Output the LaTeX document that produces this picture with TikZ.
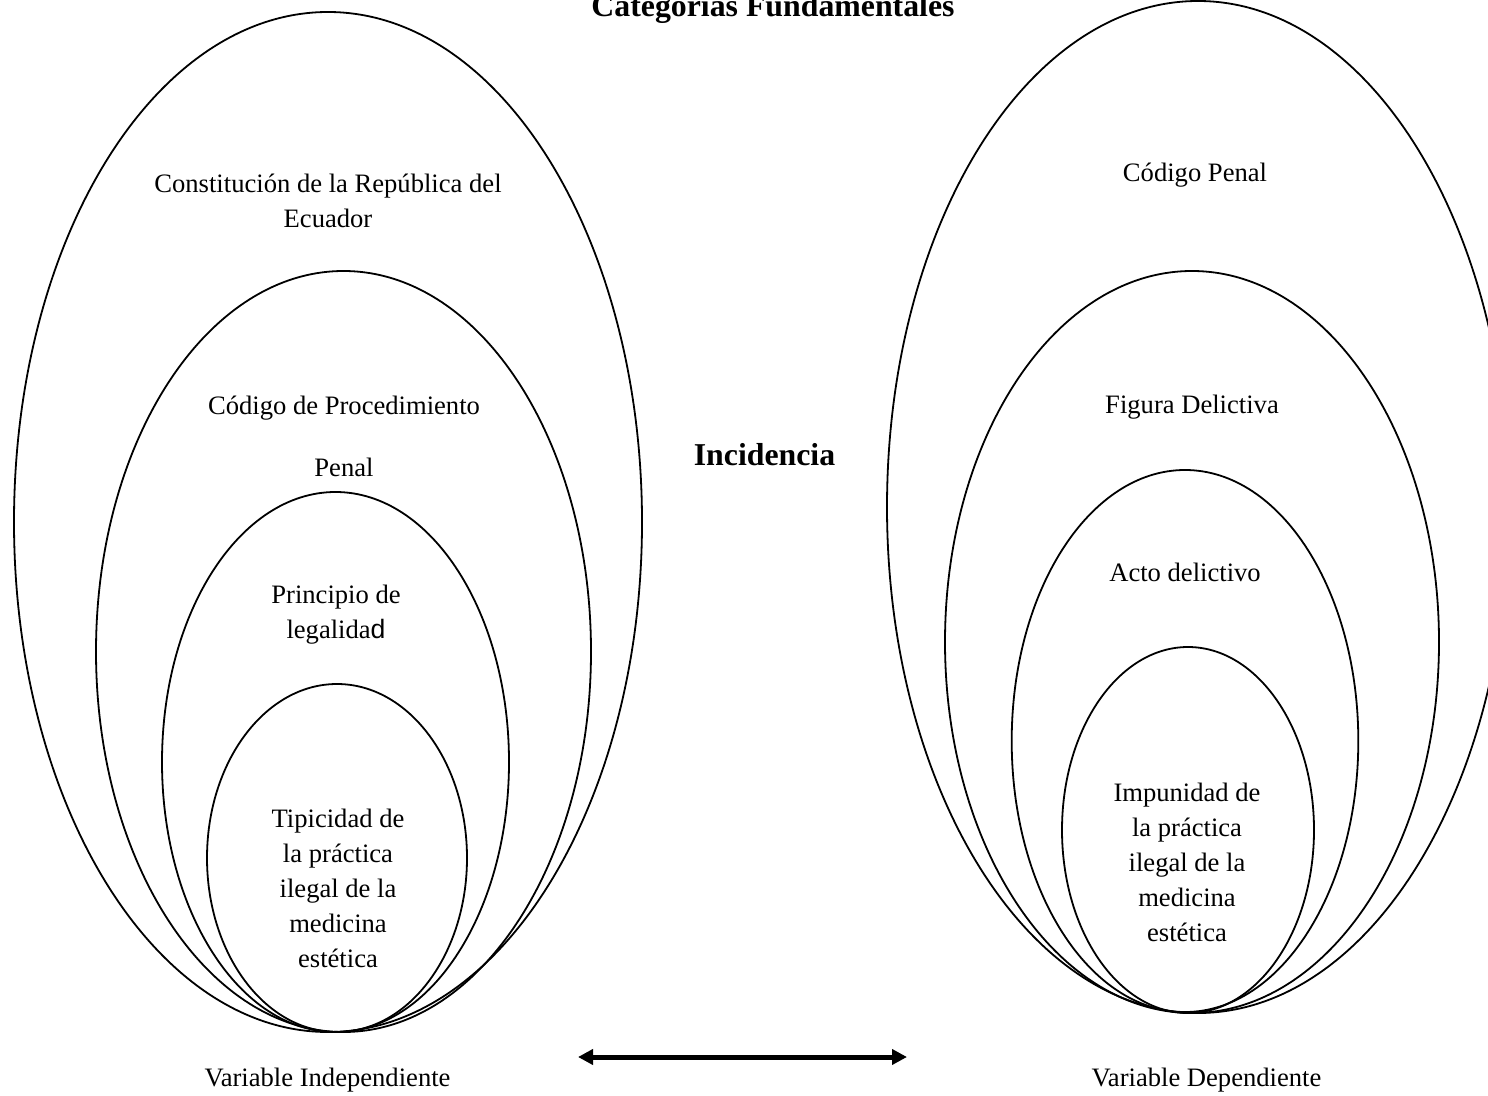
\documentclass[tikz,border=0pt]{standalone}
\usepackage{fontspec}
\setmainfont{Liberation Serif}
\newfontfamily\arialfont{Liberation Sans}
\usetikzlibrary{arrows.meta, positioning}

\begin{document}
\begin{tikzpicture}[x=0.5pt, y=-0.5pt, line width=0.9pt,
    every node/.style={inner sep=0pt, align=center, anchor=base},
    lbl/.style={font=\fontsize{13.3}{17.5}\selectfont},
    bigbold/.style={font=\fontsize{15.9}{19}\selectfont\bfseries}]
				\useasboundingbox (0,0) rectangle (1488,1096);

				\draw (328,522) ellipse [x radius=157pt, y radius=255pt];
				\draw (343.5,651.5) ellipse [x radius=123.75pt, y radius=190.25pt];
				\draw (335.5,762) ellipse [x radius=86.75pt, y radius=135pt];
				\draw (337,858) ellipse [x radius=65pt, y radius=87pt];

				\draw (1198,507) ellipse [x radius=155.5pt, y radius=253pt];
				\draw (1192,642) ellipse [x radius=123.5pt, y radius=185.5pt];
				\draw (1185,741) ellipse [x radius=86.65pt, y radius=135.5pt];
				\draw (1188,830) ellipse [x radius=63pt, y radius=91.5pt];

				\node[bigbold] (titulo) at (773,17) {Categorías Fundamentales};

				\node[lbl] (constitucion) at (328,227.7) {Constitución de la República del\\Ecuador};
				\node[lbl] (procedimiento) at (344,476.7) {Código de Procedimiento\\[13.85pt]Penal};
				\node[lbl] (principio) at (336,638.6) {Principio de\\legalida{\arialfont d}};
				\node[lbl] (tipicidad) at (338,967) {Tipicidad de\\la práctica\\ilegal de la\\medicina\\estética};

				\node[lbl] (codpenal) at (1195,181.7) {Código Penal};
				\node[lbl] (figura) at (1192,413.3) {Figura Delictiva};
				\node[lbl] (acto) at (1185,581.8) {Acto delictivo};
				\node[lbl] (impunidad) at (1187,941.6) {Impunidad de\\la práctica\\ilegal de la\\medicina\\estética};

				\node[bigbold] (incidencia) at (764.5,465.7) {Incidencia};

				\node[lbl] (varind) at (327.5,1086) {Variable Independiente};
				\node[lbl] (vardep) at (1206.5,1086) {Variable Dependiente};

				\coordinate (flechaI) at (578,1057);
				\coordinate (flechaD) at (907,1057);
				\draw[{Triangle[length=7.5pt, width=7.5pt]}-{Triangle[length=7.5pt, width=7.5pt]}, line width=2.5pt] (flechaI) -- (flechaD);

\end{tikzpicture}
\end{document}
